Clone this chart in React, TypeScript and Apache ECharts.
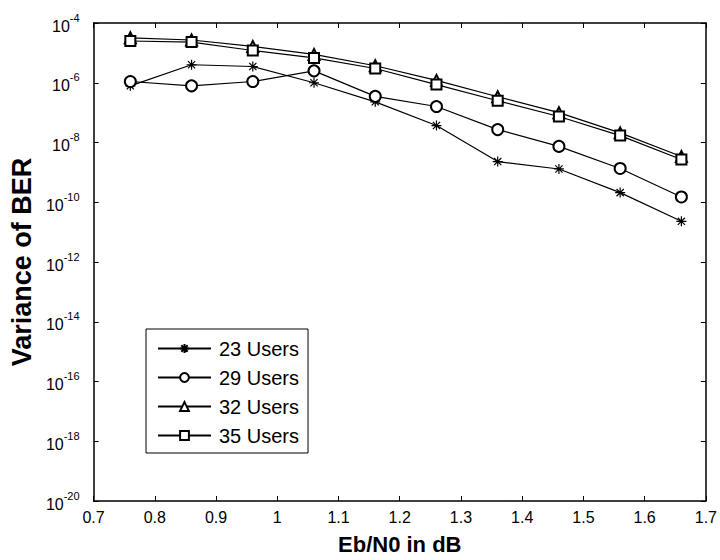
import React, { useEffect, useRef } from "react";
import * as echarts from "echarts";

// Eb/N0 (dB) sample points
const ebN0 = [0.76, 0.86, 0.96, 1.06, 1.16, 1.26, 1.36, 1.46, 1.56, 1.66];
// Variance of BER per number of users
const users23 = [7.9e-7, 4.0e-6, 3.5e-6, 1.0e-6, 2.3e-7, 3.7e-8, 2.3e-9, 1.3e-9, 2.1e-10, 2.3e-11];
const users29 = [1.1e-6, 7.9e-7, 1.1e-6, 2.5e-6, 3.5e-7, 1.6e-7, 2.7e-8, 7.4e-9, 1.35e-9, 1.5e-10];
const users32 = [3.2e-5, 2.7e-5, 1.65e-5, 8.9e-6, 3.7e-6, 1.2e-6, 3.4e-7, 1.0e-7, 2.1e-8, 3.4e-9];
const users35 = [2.5e-5, 2.3e-5, 1.2e-5, 6.8e-6, 3.0e-6, 8.7e-7, 2.5e-7, 7.4e-8, 1.7e-8, 2.7e-9];
const seriesNames = ["23 Users", "29 Users", "32 Users", "35 Users"];
const xTitle = "Eb/N0 in dB";
const yTitle = "Variance of BER";

const STAR = "path://M-5,0L5,0M0,-5L0,5M-3.6,-3.6L3.6,3.6M-3.6,3.6L3.6,-3.6";
const FONT = "Liberation Sans, Arial, sans-serif";

export default function App() {
  const ref = useRef<HTMLDivElement>(null);
  useEffect(() => {
    if (!ref.current) return;
    const chart = echarts.init(ref.current, undefined, { renderer: "svg" });
    const allSeries = [users23, users29, users32, users35];
    const symbols = [STAR, "emptyCircle", "emptyTriangle", "emptyRect"];
    const sizes = [10, 11, 11, 10];
    const xAxisCommon = {
      type: "value",
      min: 0.7,
      max: 1.7,
      interval: 0.1,
      splitLine: { show: false },
      axisLine: { show: true, onZero: false, lineStyle: { color: "#000", width: 1.5 } },
      axisTick: { show: true, inside: true, length: 5, lineStyle: { color: "#000", width: 1 } },
    };
    const yAxisCommon = {
      type: "log",
      logBase: 10,
      min: 1e-20,
      max: 1e-4,
      interval: 2,
      splitLine: { show: false },
      minorTick: { show: false },
      axisLine: { show: true, onZero: false, lineStyle: { color: "#000", width: 1.5 } },
      axisTick: { show: true, inside: true, length: 5, lineStyle: { color: "#000", width: 1 } },
    };
    chart.setOption({
      animation: false,
      backgroundColor: "#fff",
      color: ["#000", "#000", "#000", "#000"],
      textStyle: { fontFamily: FONT },
      grid: { left: 92, right: 12, top: 23, bottom: 56, containLabel: false },
      legend: {
        orient: "vertical",
        left: 146,
        top: 329,
        data: seriesNames,
        backgroundColor: "#fff",
        borderColor: "#000",
        borderWidth: 1,
        borderRadius: 0,
        padding: [9, 9, 7, 11],
        itemWidth: 53,
        itemHeight: 11,
        itemGap: 8,
        textStyle: {
          fontSize: 20,
          color: "#000",
          fontFamily: FONT,
          lineHeight: 21,
          padding: [0, 0, 0, 3],
        },
      },
      xAxis: [
        {
          ...xAxisCommon,
          position: "bottom",
          name: xTitle,
          nameLocation: "middle",
          nameGap: 32,
          nameTextStyle: { fontSize: 22, fontWeight: "bold", color: "#000", fontFamily: FONT },
          axisLabel: {
            show: true,
            color: "#000",
            fontSize: 16,
            margin: 8,
            formatter: (v: number) => String(Math.round(v * 10) / 10),
          },
        },
        { ...xAxisCommon, position: "top", axisLabel: { show: false } },
      ],
      yAxis: [
        {
          ...yAxisCommon,
          position: "left",
          name: yTitle,
          nameLocation: "middle",
          nameGap: 50,
          nameTextStyle: { fontSize: 27, fontWeight: "bold", color: "#000", fontFamily: FONT },
          axisLabel: {
            show: true,
            margin: 14,
            color: "#000",
            formatter: (v: number) => {
              const e = Math.round(Math.log10(v));
              return "{b|10}{s|" + e + "}";
            },
            rich: {
              b: { fontSize: 16, color: "#000", fontFamily: FONT, lineHeight: 22, verticalAlign: "bottom" },
              s: { fontSize: 11, color: "#000", fontFamily: FONT, lineHeight: 12, verticalAlign: "top" },
            },
          },
        },
        { ...yAxisCommon, position: "right", axisLabel: { show: false } },
      ],
      series: allSeries.map((vals, i) => ({
        name: seriesNames[i],
        type: "line",
        xAxisIndex: 0,
        yAxisIndex: 0,
        data: ebN0.map((x, j) => [x, vals[j]]),
        symbol: symbols[i],
        symbolSize: sizes[i],
        showSymbol: true,
        showAllSymbol: true,
        lineStyle: { color: "#000", width: 1.2, type: "solid" },
        itemStyle: { color: "#000", borderColor: "#000", borderWidth: 1.2 },
        emphasis: { disabled: true },
      })),
    });
    return () => chart.dispose();
  }, []);
  return (
    <div
      ref={ref}
      style={{ position: "fixed", left: 0, top: 0, width: 720, height: 560, background: "#fff" }}
    />
  );
}
